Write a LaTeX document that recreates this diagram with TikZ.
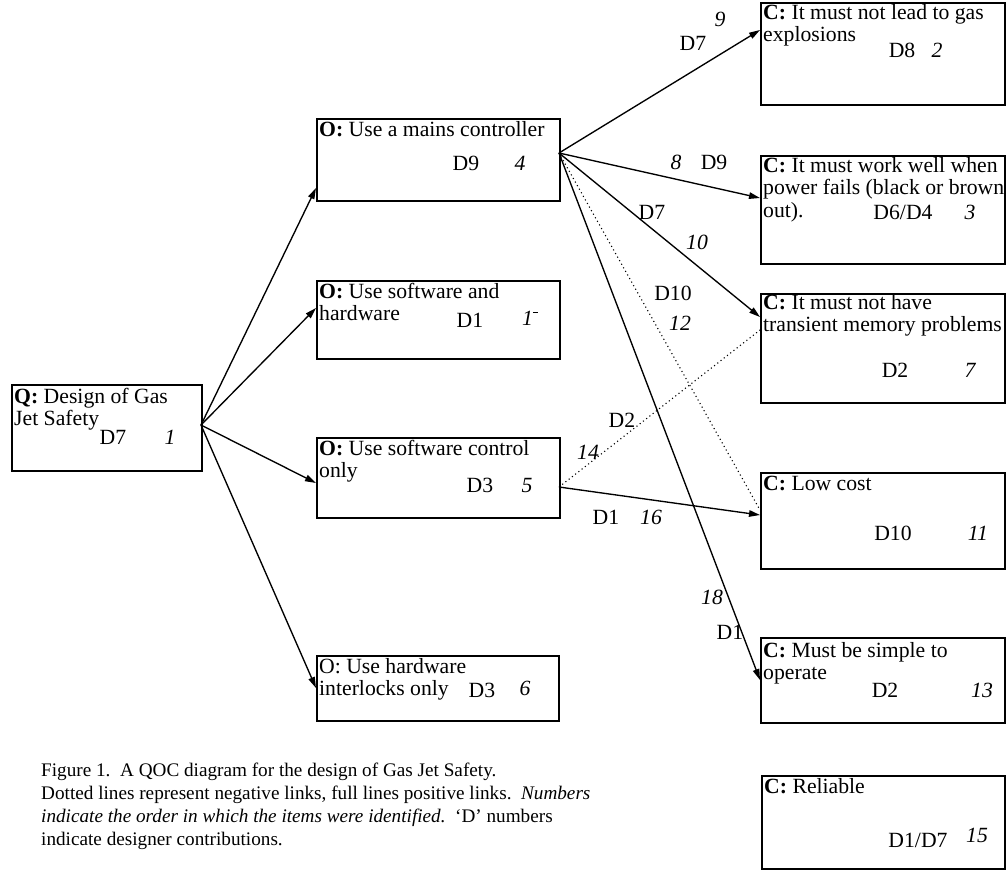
\documentclass[tikz,border=0pt]{standalone}
\usepackage{fontspec}
\setmainfont{Liberation Serif}
\usetikzlibrary{arrows.meta}
\begin{document}
\begin{tikzpicture}[x=1pt,y=-1pt,
  box/.style={draw, line width=1.5pt, inner sep=0pt, anchor=north west},
  txt/.style={inner sep=0pt, font=\fontsize{21.7}{22.5}\selectfont},
  title/.style={txt, anchor=north west, align=left},
  dval/.style={txt, anchor=base},
  nval/.style={inner sep=0pt, anchor=base, font=\fontsize{21.7}{22.5}\selectfont\itshape},
  link/.style={line width=1.35pt, -{Triangle[length=11pt,width=6.5pt]}},
  neg/.style={line width=1.1pt, dash pattern=on 1.1pt off 3pt}
]
\useasboundingbox (0,0) rectangle (1006,870);

% boxes
\node[box, minimum width=190pt, minimum height=86pt] (Q) at (11,384) {};
\node[box, minimum width=243pt, minimum height=82pt] (O1) at (316,118) {};
\node[box, minimum width=243pt, minimum height=78pt] (O2) at (316,280) {};
\node[box, minimum width=243pt, minimum height=80pt] (O3) at (316,437) {};
\node[box, minimum width=242pt, minimum height=65pt] (O4) at (316,655) {};
\node[box, minimum width=244pt, minimum height=102pt] (C1) at (760,2) {};
\node[box, minimum width=244pt, minimum height=108pt] (C2) at (760,155) {};
\node[box, minimum width=244pt, minimum height=109pt] (C3) at (760,293) {};
\node[box, minimum width=244pt, minimum height=96pt] (C4) at (760,472) {};
\node[box, minimum width=244pt, minimum height=85pt] (C5) at (760,637) {};
\node[box, minimum width=243pt, minimum height=93pt] (C6) at (761,775) {};

% titles
\node[title] (Qt) at (14,388) {\textbf{Q:} Design of Gas\\Jet Safety};
\node[title] (O1t) at (319,121) {\textbf{O:} Use a mains controller};
\node[title] (O2t) at (319,283) {\textbf{O:} Use software and\\hardware};
\node[title] (O3t) at (319,440) {\textbf{O:} Use software control\\only};
\node[title] (O4t) at (319,658) {O: Use hardware\\interlocks only};
\node[title] (C1t) at (763,4) {\textbf{C:} It must not lead to gas\\explosions};
\node[title] (C2t) at (763,157) {\textbf{C:} It must work well when\\power fails (black or brown\\out).};
\node[title] (C3t) at (763,294) {\textbf{C:} It must not have\\transient memory problems};
\node[title] (C4t) at (763,476) {\textbf{C:} Low cost};
\node[title] (C5t) at (763,642) {\textbf{C:} Must be simple to\\operate};
\node[title] (C6t) at (764,778) {\textbf{C:} Reliable};

% designer / order values
\node[dval] (Qd) at (113,444) {D7};   \node[nval] (Qn) at (170,444) {1};
\node[dval] (O1d) at (466,170) {D9};  \node[nval] (O1n) at (520,170) {4};
\node[dval] (O2d) at (470,327) {D1};  \node[nval] (O2n) at (530,325) {1\raisebox{0.55em}{\rule{5pt}{1pt}}};
\node[dval] (O3d) at (480,492) {D3};  \node[nval] (O3n) at (527,492) {5};
\node[dval] (O4d) at (482,697) {D3};  \node[nval] (O4n) at (525,695) {6};
\node[dval] (C1d) at (902,57) {D8};   \node[nval] (C1n) at (937,57) {2};
\node[dval] (C2d) at (903,219) {D6/D4}; \node[nval] (C2n) at (970,219) {3};
\node[dval] (C3d) at (895,377) {D2};  \node[nval] (C3n) at (970,377) {7};
\node[dval] (C4d) at (893,540) {D10}; \node[nval] (C4n) at (978,540) {11};
\node[dval] (C5d) at (885,697) {D2};  \node[nval] (C5n) at (982,697) {13};
\node[dval] (C6d) at (918,847) {D1/D7}; \node[nval] (C6n) at (977,842) {15};

% ports
\coordinate (Qo) at (201,425);
\coordinate (O1i) at (316,188);
\coordinate (O2i) at (316,308);
\coordinate (O3i) at (316,483);
\coordinate (O4i) at (316,688);
\coordinate (O1o) at (559,153);
\coordinate (O3o) at (559,487);
\coordinate (C1i) at (760,30);
\coordinate (C2i) at (760,198);
\coordinate (C3i) at (760,317);
\coordinate (C3n) at (760,330);
\coordinate (C4i) at (760,515);
\coordinate (C4n) at (760,510);
\coordinate (C5i) at (760,680);

% links
\draw[link] (Qo) -- (O1i);
\draw[link] (Qo) -- (O2i);
\draw[link] (Qo) -- (O3i);
\draw[link] (Qo) -- (O4i);
\draw[link] (O1o) -- (C1i);
\draw[link] (O1o) -- (C2i);
\draw[link] (O1o) -- (C3i);
\draw[neg] (O1o) -- (C4n);
\draw[link] (O1o) -- (C5i);
\draw[link] (O3o) -- (C4i);
\draw[neg] (O3o) -- (C3n);

% link labels
\node[dval] (l1d) at (693,50) {D7};  \node[nval] (l1n) at (720,26) {9};
\node[nval] (l2n) at (676,169) {8};  \node[dval] (l2d) at (714,169) {D9};
\node[dval] (l3d) at (652,219) {D7}; \node[nval] (l3n) at (697,249) {10};
\node[dval] (l4d) at (673,300) {D10}; \node[nval] (l4n) at (680,330) {12};
\node[dval] (l5d) at (622,427) {D2}; \node[nval] (l5n) at (588,459) {14};
\node[dval] (l6d) at (606,524) {D1}; \node[nval] (l6n) at (651,524) {16};
\node[nval] (l7n) at (712,604) {18}; \node[dval] (l7d) at (730,639) {D1};

% caption
\node[inner sep=0pt, anchor=north west, align=left, font=\fontsize{19.2}{23}\selectfont] (cap) at (41,763)
 {Figure 1.\ \ A QOC diagram for the design of Gas Jet Safety.\\
  Dotted lines represent negative links, full lines positive links.\ \ \textit{Numbers}\\
  \textit{indicate the order in which the items were identified.}\ \ ‘D’ numbers\\
  indicate designer contributions.};
\end{tikzpicture}
\end{document}
